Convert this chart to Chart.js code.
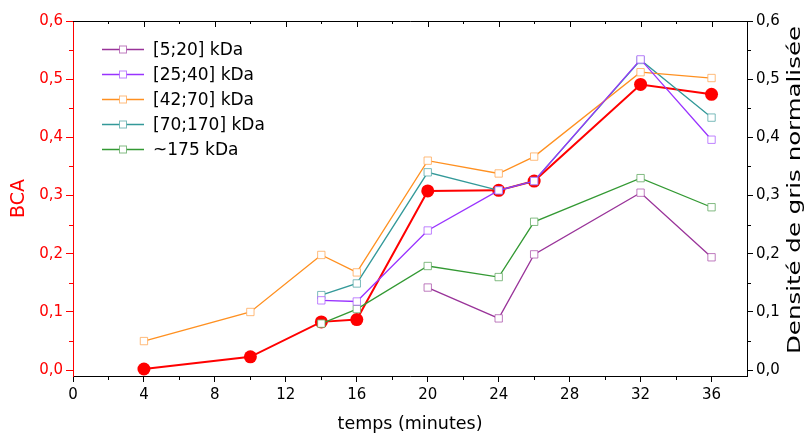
<!DOCTYPE html>
<html><head><meta charset="utf-8">
<script src="https://cdn.jsdelivr.net/npm/chart.js@4/dist/chart.umd.min.js"></script>
<style>html,body{margin:0;padding:0;background:#fff;overflow:hidden}</style>
</head><body>
<canvas id="c" width="805" height="435"></canvas>
<script>
// ---- data ----
const timesBCA   = [4, 10, 14, 16, 20, 24, 26, 32, 36];
const bca        = [0.002, 0.023, 0.083, 0.087, 0.308, 0.309, 0.325, 0.491, 0.474];
const timesFull  = [4, 10, 14, 16, 20, 24, 26, 32, 36];
const kda42_70   = [0.050, 0.100, 0.198, 0.168, 0.360, 0.338, 0.367, 0.512, 0.502];
const times5_20  = [20, 24, 26, 32, 36];
const kda5_20    = [0.142, 0.089, 0.199, 0.305, 0.194];
const timesLate  = [14, 16, 20, 24, 26, 32, 36];
const kda25_40   = [0.120, 0.118, 0.240, 0.309, 0.325, 0.534, 0.396];
const kda70_170  = [0.129, 0.149, 0.340, 0.309, 0.325, 0.533, 0.434];
const kda175     = [0.080, 0.105, 0.179, 0.160, 0.255, 0.330, 0.280];
const seriesLabels = ['[5;20] kDa', '[25;40] kDa', '[42;70] kDa', '[70;170] kDa', '~175 kDa'];
const xTitle = 'temps (minutes)';
const yLeftTitle = 'BCA';
const yRightTitle = 'Densité de gris normalisée';

const FONT = 'DejaVu Sans';
Chart.defaults.font.family = FONT;

function pts(xs, ys) { return xs.map((x, i) => ({ x: x, y: ys[i] })); }
function fmt(v) { return (Math.round(v * 10) / 10).toFixed(1).replace('.', ','); }

function sq(label, xs, ys, line, mark) {
  return {
    label: label, data: pts(xs, ys), yAxisID: 'y2', order: 0,
    borderColor: line, borderWidth: 1.3, pointStyle: 'rect', pointRadius: 5.2,
    pointBorderColor: mark, pointBackgroundColor: '#fff', pointBorderWidth: 1,
    tension: 0, legendEntry: true
  };
}

const datasets = [
  {
    label: yLeftTitle, data: pts(timesBCA, bca), yAxisID: 'y', order: 1,
    borderColor: '#ff0000', borderWidth: 2, pointRadius: 6.5, pointBorderWidth: 0,
    pointBackgroundColor: '#ff0000', pointBorderColor: '#ff0000', tension: 0
  },
  sq(seriesLabels[0], times5_20, kda5_20, '#993399', 'rgba(170,80,170,0.75)'),
  sq(seriesLabels[1], timesLate, kda25_40, '#9933ff', 'rgba(170,90,255,0.75)'),
  sq(seriesLabels[2], timesFull, kda42_70, '#ff9020', 'rgba(255,170,90,0.8)'),
  sq(seriesLabels[3], timesLate, kda70_170, '#339999', 'rgba(90,170,170,0.8)'),
  sq(seriesLabels[4], timesLate, kda175, '#339933', 'rgba(100,170,100,0.8)')
];

const framePlugin = {
  id: 'frame',
  afterDraw(chart) {
    const ctx = chart.ctx;
    const a = chart.chartArea;
    const x = chart.scales.x, yl = chart.scales.y, yr = chart.scales.y2;
    ctx.save();
    ctx.lineWidth = 1;
    // top border + inward ticks
    ctx.strokeStyle = '#000';
    ctx.beginPath();
    ctx.moveTo(a.left, a.top + 0.5); ctx.lineTo(a.right + 0.5, a.top + 0.5);
    for (let v = 2; v < x.max; v += 2) {
      const px = Math.round(x.getPixelForValue(v)) + 0.5;
      const len = v % 4 === 0 ? 6 : 3;
      ctx.moveTo(px, a.top); ctx.lineTo(px, a.top + len);
    }
    // bottom minor ticks
    for (let v = 2; v < x.max; v += 4) {
      const px = Math.round(x.getPixelForValue(v)) + 0.5;
      ctx.moveTo(px, a.bottom); ctx.lineTo(px, a.bottom + 4);
    }
    // right minor ticks
    for (let v = 0.05; v < yr.max; v += 0.1) {
      const py = Math.round(yr.getPixelForValue(v)) + 0.5;
      ctx.moveTo(a.right, py); ctx.lineTo(a.right + 4, py);
    }
    ctx.stroke();
    // left minor ticks (red)
    ctx.strokeStyle = '#ff0000';
    ctx.beginPath();
    for (let v = 0.05; v < yl.max; v += 0.1) {
      const py = Math.round(yl.getPixelForValue(v)) + 0.5;
      ctx.moveTo(a.left - 4, py); ctx.lineTo(a.left, py);
    }
    ctx.stroke();

    // right axis title (reads bottom to top)
    ctx.fillStyle = '#000';
    ctx.font = '17px ' + FONT;
    ctx.textAlign = 'center';
    ctx.textBaseline = 'middle';
    const w = ctx.measureText(yRightTitle).width;
    ctx.translate(796, 190);
    ctx.rotate(-Math.PI / 2);
    ctx.scale(328 / w, 1);
    ctx.fillText(yRightTitle, 0, 0);
    ctx.restore();

    // legend inside plot
    ctx.save();
    let row = 0;
    chart.data.datasets.forEach(ds => {
      if (!ds.legendEntry) return;
      const cy = Math.round(48.5 + 25.2 * row) + 0.5;
      ctx.strokeStyle = ds.borderColor; ctx.lineWidth = 1.3;
      ctx.beginPath(); ctx.moveTo(102, cy); ctx.lineTo(144, cy); ctx.stroke();
      ctx.fillStyle = '#fff'; ctx.strokeStyle = ds.pointBorderColor; ctx.lineWidth = 1;
      ctx.fillRect(119.5, cy - 3.5, 7, 7);
      ctx.strokeRect(119.5, cy - 3.5, 7, 7);
      ctx.fillStyle = '#000';
      ctx.font = '17px ' + FONT;
      ctx.textAlign = 'left'; ctx.textBaseline = 'middle';
      ctx.fillText(ds.label, 153, cy + 1);
      row++;
    });
    ctx.restore();
  }
};

new Chart(document.getElementById('c'), {
  type: 'line',
  data: { datasets: datasets },
  options: {
    responsive: false, animation: false, devicePixelRatio: 1,
    layout: { padding: { top: 21, left: 0, right: 0, bottom: 0 } },
    plugins: { legend: { display: false }, tooltip: { enabled: false } },
    scales: {
      x: {
        type: 'linear', min: 0, max: 38,
        afterFit(s) { s.height = 59; },
        ticks: { stepSize: 4, includeBounds: false, color: '#000', font: { size: 15 }, padding: 4, maxRotation: 0 },
        grid: { display: true, drawOnChartArea: false, drawTicks: true, tickLength: 6, color: '#000' },
        border: { display: true, color: '#000', width: 1 },
        title: { display: true, text: xTitle, color: '#000', font: { size: 17.5 }, padding: { top: 0, bottom: 0 } }
      },
      y: {
        type: 'linear', position: 'left', min: -0.01, max: 0.6,
        afterFit(s) { s.width = 73; },
        ticks: { stepSize: 0.1, includeBounds: false, color: '#ff0000', font: { size: 15 }, padding: 3, callback: v => fmt(v) },
        grid: { display: true, drawOnChartArea: false, drawTicks: true, tickLength: 7, color: '#ff0000' },
        border: { display: true, color: '#ff0000', width: 1 },
        title: { display: true, text: yLeftTitle, color: '#ff0000', font: { size: 19 }, padding: { top: 8, bottom: 0 } }
      },
      y2: {
        type: 'linear', position: 'right', min: -0.01, max: 0.6,
        afterFit(s) { s.width = 58; },
        ticks: { stepSize: 0.1, includeBounds: false, color: '#000', font: { size: 15 }, padding: 3, callback: v => fmt(v) },
        grid: { display: true, drawOnChartArea: false, drawTicks: true, tickLength: 6, color: '#000' },
        border: { display: true, color: '#000', width: 1 }
      }
    }
  },
  plugins: [framePlugin]
});
</script>
</body></html>
